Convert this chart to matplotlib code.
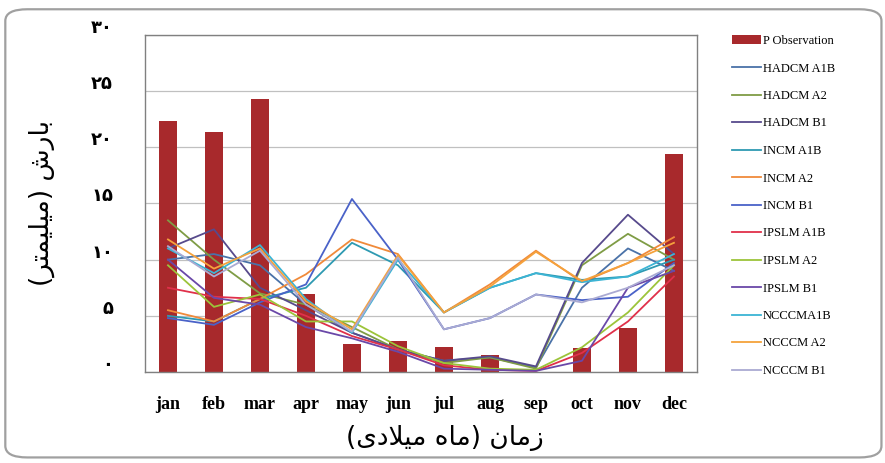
import matplotlib.pyplot as plt
import matplotlib.transforms as mtransforms
from matplotlib.patches import FancyBboxPatch
import numpy as np

months = ["jan", "feb", "mar", "apr", "may", "jun", "jul", "aug", "sep", "oct", "nov", "dec"]
observation = [22.3, 21.4, 24.3, 6.9, 2.5, 2.8, 2.2, 1.5, 0.0, 2.1, 3.9, 19.4]

hadcm_a1b = [10.0, 10.5, 9.5, 6.0, 3.5, 2.0, 1.0, 1.3, 0.4, 7.5, 11.0, 9.0]
hadcm_a2 = [13.5, 10.0, 7.0, 6.0, 4.0, 2.0, 0.8, 1.3, 0.3, 9.5, 12.3, 10.0]
hadcm_b1 = [11.0, 12.7, 7.5, 5.5, 3.5, 2.0, 1.0, 1.4, 0.5, 9.7, 14.0, 10.5]
incm_a1b = [5.0, 4.5, 6.5, 7.5, 11.5, 9.5, 5.3, 7.5, 8.8, 8.2, 8.5, 10.0]
incm_a2 = [5.5, 4.5, 6.5, 8.7, 11.8, 10.5, 5.3, 7.8, 10.8, 8.0, 9.7, 12.0]
incm_b1 = [4.8, 4.2, 6.2, 7.8, 15.4, 10.0, 3.8, 4.8, 6.9, 6.4, 6.7, 9.7]
ipslm_a1b = [7.5, 6.7, 6.5, 5.0, 3.2, 2.0, 0.6, 0.2, 0.1, 1.7, 4.5, 8.5]
ipslm_a2 = [9.5, 5.8, 6.9, 4.5, 4.5, 2.3, 0.8, 0.3, 0.2, 2.2, 5.3, 9.5]
ipslm_b1 = [10.0, 6.6, 6.0, 4.0, 3.0, 1.8, 0.3, 0.2, 0.1, 1.0, 7.5, 9.0]
ncccm_a1b = [11.0, 8.8, 11.3, 6.5, 3.5, 10.0, 5.3, 7.5, 8.8, 8.0, 8.5, 10.5]
ncccm_a2 = [11.8, 9.2, 11.0, 6.3, 3.8, 10.4, 5.3, 7.6, 10.7, 8.1, 9.7, 11.5]
ncccm_b1 = [11.2, 8.5, 10.8, 6.0, 3.6, 10.2, 3.8, 4.8, 6.9, 6.2, 7.5, 9.5]

series = [
    ("HADCM A1B", hadcm_a1b, "#4a72a8"),
    ("HADCM A2", hadcm_a2, "#7f9c45"),
    ("HADCM B1", hadcm_b1, "#574a8c"),
    ("INCM A1B", incm_a1b, "#2e9ab2"),
    ("INCM A2", incm_a2, "#f08a3a"),
    ("INCM B1", incm_b1, "#4a62c8"),
    ("IPSLM A1B", ipslm_a1b, "#e0304a"),
    ("IPSLM A2", ipslm_a2, "#9cc43a"),
    ("IPSLM B1", ipslm_b1, "#6a48a8"),
    ("NCCCMA1B", ncccm_a1b, "#3cb4d4"),
    ("NCCCM A2", ncccm_a2, "#f5a23c"),
    ("NCCCM B1", ncccm_b1, "#aaaad2"),
]

yticks = [0, 5, 10, 15, 20, 25, 30]
ytick_labels = ["\u06f0", "\u06f5", "\u06f1\u06f0", "\u06f1\u06f5", "\u06f2\u06f0", "\u06f2\u06f5", "\u06f3\u06f0"]

# persian labels, shaped by hand (presentation forms, visual order)
ylabel = "(\ufeae\ufe98\ufee4\ufef4\ufee0\ufef4\ufee3) \ufeb5\ufead\ufe8e\ufe91"
xlabel = "(\ufeef\ufea9\ufefc\ufef4\ufee3 \ufee9\ufe8e\ufee3) \ufee5\ufe8e\ufee3\ufeaf"

fig = plt.figure(figsize=(8.85, 4.63), dpi=100)
fig.patches.append(FancyBboxPatch((0.006, 0.012), 0.99, 0.968,
                                  boxstyle="round,pad=0,rounding_size=0.025",
                                  transform=fig.transFigure, facecolor="white",
                                  edgecolor="#a0a0a0", lw=1.6, zorder=-1))

ax = fig.add_axes([0.1638, 0.1965, 0.6237, 0.728])
x = np.arange(len(months))

bars = ax.bar(x, observation, width=0.4, color="#a8292c", label="P Observation", zorder=2)
handles = [bars]
for name, vals, col in series:
    ln, = ax.plot(x, vals, color=col, lw=1.3, label=name, zorder=3)
    handles.append(ln)

ax.set_xlim(-0.5, 11.5)
ax.set_ylim(0, 30)
ax.set_yticks(yticks)
ax.set_yticklabels(ytick_labels, fontsize=13, fontweight="bold", family="DejaVu Sans")
ax.set_xticks(x)
ax.set_xticklabels(months, fontsize=13, fontweight="bold", family="Liberation Serif")
ax.tick_params(axis="y", length=0, pad=23)
ax.tick_params(axis="x", length=0, pad=17)
offset = mtransforms.ScaledTranslation(0, 9 / 100, fig.dpi_scale_trans)
for lab in ax.get_yticklabels():
    lab.set_transform(lab.get_transform() + offset)

ax.grid(axis="y", color="#c0c0c0", lw=0.9, zorder=0)
ax.set_axisbelow(True)
for sp in ax.spines.values():
    sp.set_color("#808080")
    sp.set_linewidth(1.0)

ax.set_ylabel(ylabel, fontsize=19, family="DejaVu Sans")
ax.yaxis.set_label_coords(-90 / 552, 0.5)
ax.set_xlabel(xlabel, fontsize=19, family="DejaVu Sans")
ax.xaxis.set_label_coords((445 - 145) / 552, -53 / 337)

leg = ax.legend(handles=handles, loc="upper left", frameon=False,
                prop={"family": "Liberation Serif", "size": 9},
                labelspacing=1.24, handlelength=2.3, handletextpad=0.15,
                borderaxespad=0)
leg.set_bbox_to_anchor((727 / 885, 1 - 30 / 463), transform=fig.transFigure)

fig.savefig("out.png", dpi=100)
